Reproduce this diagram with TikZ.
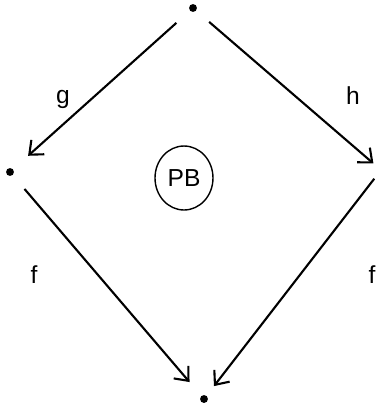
\documentclass[tikz,border=0pt]{standalone}
\usepackage{fontspec}
\setmainfont{Liberation Sans}
\usetikzlibrary{arrows.meta,shapes.geometric}

\begin{document}
\begin{tikzpicture}[
  x=0.02cm, y=-0.02cm,
  every node/.style={font=\fontsize{14}{16}\selectfont},
  dotnode/.style={circle, fill, inner sep=0pt, minimum size=4.5pt},
  arr/.style={-{Straight Barb[length=6.5pt, width=11pt]}, line width=1.2pt},
  lbl/.style={inner sep=1pt},
]
\useasboundingbox (0,0) rectangle (387,406);

%% ---- corners ----
\node[dotnode] (top) at (193,8) {};
\node[dotnode] (lft) at (10,172) {};
\coordinate (rgt) at (381,170);
\node[dotnode] (bot) at (204,399) {};

%% ---- arrows ----
\draw[arr, shorten <=0.36cm, shorten >=0.4cm] (top) -- (lft);
\draw[arr, shorten <=0.34cm, shorten >=0.2cm] (top) -- (rgt);
\draw[arr, shorten <=0.36cm, shorten >=0.36cm] (lft) -- (bot);
\draw[arr, shorten <=0.22cm, shorten >=0.24cm] (rgt) -- (bot);

%% ---- labels ----
\node[lbl] (g)  at (63,99)   {g};
\node[lbl] (h)  at (353,96)  {h};
\node[lbl] (f1) at (34,275)  {f};
\node[lbl] (f2) at (372,275) {f};

%% ---- pullback mark ----
\node[ellipse, draw, line width=0.8pt, minimum width=1.16cm,
      minimum height=1.28cm, inner sep=0pt] (pb) at (184,178) {PB};
\end{tikzpicture}
\end{document}
